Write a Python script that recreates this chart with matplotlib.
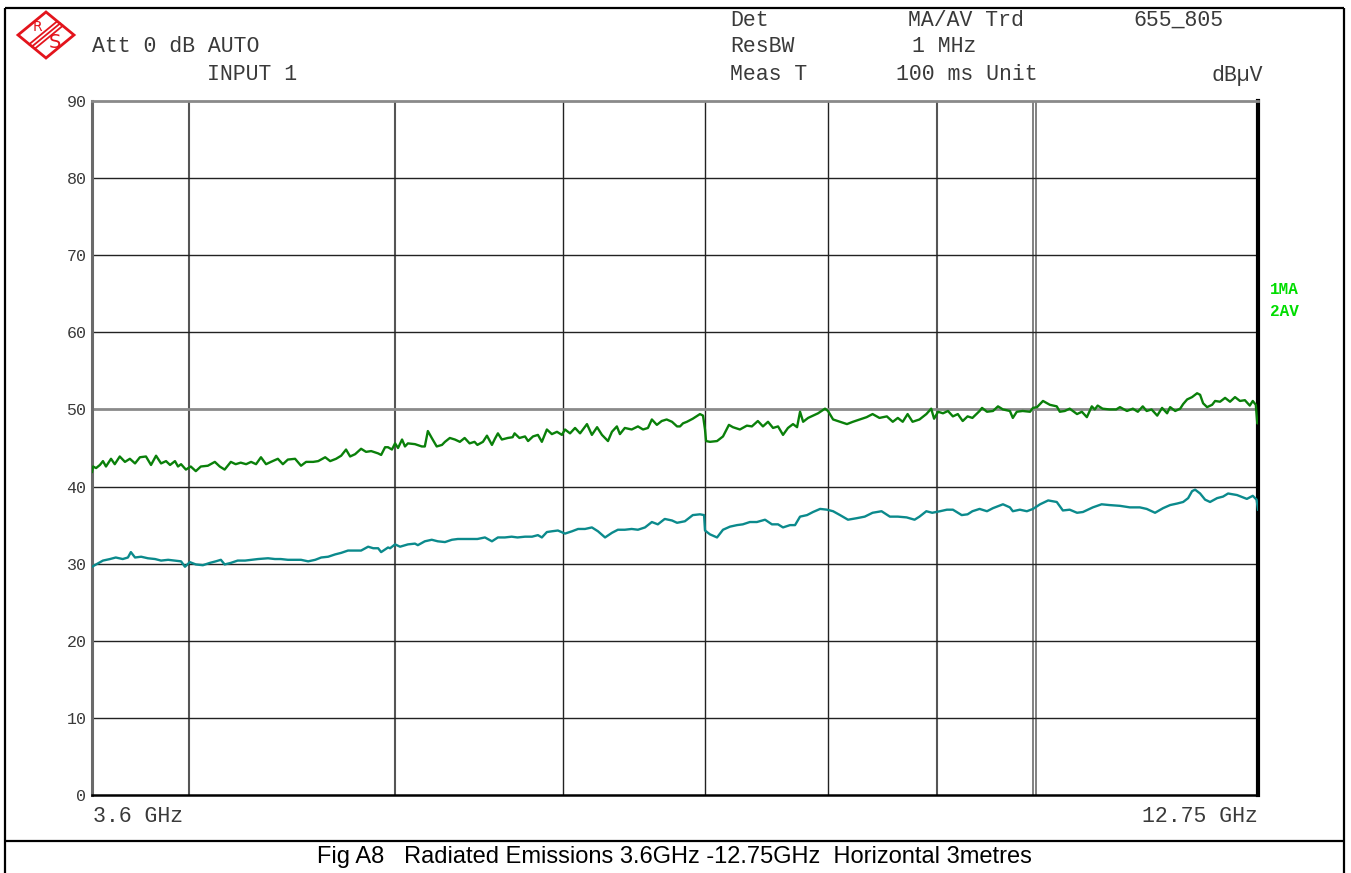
import matplotlib
matplotlib.use('Agg')
import matplotlib.pyplot as plt
from matplotlib.patches import Polygon
from matplotlib.ticker import NullLocator

# Trace 1: max peak (MA), frequency in GHz / level in dBuV
ma_freq = [3.600, 3.604, 3.616, 3.631, 3.643, 3.655, 3.675, 3.690, 3.710, 3.731,
           3.751, 3.772, 3.792, 3.817, 3.838, 3.859, 3.880, 3.901, 3.918, 3.939,
           3.952, 3.965, 3.986, 4.007, 4.029, 4.051, 4.082, 4.113, 4.135, 4.157,
           4.185, 4.207, 4.230, 4.255, 4.278, 4.301, 4.324, 4.348, 4.371, 4.404,
           4.428, 4.452, 4.487, 4.516, 4.541, 4.576, 4.601, 4.636, 4.661, 4.691,
           4.717, 4.742, 4.763, 4.789, 4.820, 4.846, 4.873, 4.910, 4.926, 4.947,
           4.963, 4.984, 5.001, 5.017, 5.039, 5.055, 5.071, 5.110, 5.148, 5.165,
           5.182, 5.204, 5.232, 5.262, 5.279, 5.307, 5.336, 5.365, 5.393, 5.422,
           5.451, 5.468, 5.501, 5.525, 5.555, 5.573, 5.591, 5.615, 5.651, 5.681,
           5.693, 5.723, 5.758, 5.777, 5.808, 5.839, 5.864, 5.896, 5.928, 5.961,
           5.993, 6.013, 6.046, 6.079, 6.112, 6.158, 6.191, 6.226, 6.259, 6.300,
           6.327, 6.361, 6.382, 6.416, 6.464, 6.508, 6.544, 6.579, 6.607, 6.643,
           6.678, 6.714, 6.753, 6.790, 6.812, 6.834, 6.863, 6.907, 6.961, 6.984,
           6.999, 7.007, 7.037, 7.091, 7.137, 7.183, 7.214, 7.269, 7.324, 7.364,
           7.412, 7.453, 7.494, 7.535, 7.576, 7.617, 7.658, 7.700, 7.734, 7.759,
           7.785, 7.827, 7.869, 7.912, 7.972, 7.998, 8.042, 8.103, 8.164, 8.217,
           8.279, 8.340, 8.394, 8.457, 8.525, 8.580, 8.627, 8.673, 8.719, 8.766,
           8.832, 8.898, 8.945, 8.973, 9.012, 9.060, 9.109, 9.158, 9.207, 9.256,
           9.305, 9.354, 9.427, 9.452, 9.503, 9.565, 9.617, 9.669, 9.742, 9.773,
           9.815, 9.878, 9.957, 9.989, 10.033, 10.098, 10.174, 10.250, 10.284, 10.339,
           10.395, 10.478, 10.533, 10.590, 10.647, 10.681, 10.715, 10.772, 10.852, 10.932,
           10.977, 11.061, 11.132, 11.192, 11.252, 11.300, 11.360, 11.430, 11.490, 11.553,
           11.591, 11.655, 11.718, 11.756, 11.807, 11.870, 11.935, 11.974, 12.013, 12.065,
           12.131, 12.170, 12.236, 12.303, 12.369, 12.436, 12.503, 12.570, 12.637, 12.678,
           12.720, 12.740, 12.750]
ma_level = [41.9, 42.6, 42.4, 42.8, 43.3, 42.6, 43.6, 42.9, 43.9, 43.2,
            43.6, 43.0, 43.8, 43.9, 42.8, 44.0, 43.0, 43.3, 42.8, 43.3,
            42.6, 42.9, 42.2, 42.6, 42.0, 42.6, 42.7, 43.2, 42.6, 42.2,
            43.2, 42.9, 43.1, 42.9, 43.2, 42.9, 43.8, 42.9, 43.2, 43.6,
            42.9, 43.5, 43.6, 42.7, 43.2, 43.2, 43.3, 43.8, 43.3, 43.6,
            44.0, 44.8, 43.9, 44.2, 44.9, 44.5, 44.6, 44.3, 44.1, 45.1,
            45.1, 44.8, 45.6, 45.0, 46.1, 45.2, 45.6, 45.5, 45.2, 45.2,
            47.2, 46.3, 45.2, 45.4, 45.8, 46.3, 46.1, 45.8, 46.3, 45.6,
            45.8, 45.4, 45.8, 46.6, 45.4, 46.2, 46.9, 46.1, 46.3, 46.4,
            46.9, 46.3, 46.5, 45.9, 46.5, 46.7, 45.8, 47.4, 46.8, 47.1,
            46.7, 47.4, 46.9, 47.6, 46.9, 48.1, 46.7, 47.7, 46.7, 45.9,
            47.1, 47.8, 46.8, 47.6, 47.4, 47.8, 47.4, 47.6, 48.7, 48.0,
            48.5, 48.7, 48.4, 47.8, 47.8, 48.2, 48.4, 48.8, 49.4, 49.2,
            47.4, 45.9, 45.8, 45.9, 46.5, 48.0, 47.7, 47.4, 47.9, 47.8,
            48.5, 47.8, 48.4, 47.6, 47.8, 46.7, 47.6, 48.1, 47.7, 49.7,
            48.4, 48.9, 49.2, 49.5, 50.1, 49.8, 48.7, 48.4, 48.1, 48.4,
            48.7, 49.0, 49.4, 48.9, 49.1, 48.4, 48.9, 48.4, 49.4, 48.4,
            48.7, 49.4, 50.1, 48.8, 49.7, 49.5, 49.8, 49.1, 49.4, 48.5,
            49.1, 48.9, 49.8, 50.2, 49.7, 49.8, 50.4, 50.0, 49.8, 48.9,
            49.7, 49.8, 49.7, 50.2, 50.3, 51.1, 50.6, 50.4, 49.7, 49.8,
            50.1, 49.4, 49.7, 49.0, 50.4, 50.0, 50.5, 50.1, 50.0, 50.0,
            50.3, 49.8, 50.1, 49.7, 50.4, 49.8, 50.0, 49.2, 50.2, 49.5,
            50.3, 49.8, 50.1, 50.7, 51.3, 51.6, 52.1, 51.9, 50.8, 50.3,
            50.6, 51.1, 51.0, 51.5, 51.0, 51.6, 51.1, 51.2, 50.5, 51.1,
            50.6, 48.2, 48.2]

# Trace 2: average (AV)
av_freq = [3.600, 3.616, 3.643, 3.671, 3.694, 3.722, 3.743, 3.755, 3.772, 3.797,
           3.825, 3.855, 3.880, 3.910, 3.939, 3.965, 3.982, 4.003, 4.029, 4.060,
           4.091, 4.117, 4.140, 4.157, 4.185, 4.216, 4.250, 4.278, 4.310, 4.357,
           4.390, 4.418, 4.452, 4.487, 4.516, 4.551, 4.586, 4.616, 4.651, 4.686,
           4.717, 4.752, 4.789, 4.820, 4.857, 4.884, 4.910, 4.926, 4.963, 4.974,
           5.001, 5.028, 5.071, 5.110, 5.126, 5.165, 5.204, 5.238, 5.279, 5.319,
           5.353, 5.393, 5.434, 5.468, 5.513, 5.555, 5.591, 5.633, 5.675, 5.711,
           5.758, 5.802, 5.839, 5.864, 5.896, 5.928, 5.967, 6.013, 6.059, 6.099,
           6.145, 6.191, 6.232, 6.280, 6.327, 6.368, 6.416, 6.464, 6.508, 6.558,
           6.607, 6.650, 6.700, 6.753, 6.790, 6.848, 6.863, 6.907, 6.961, 6.992,
           6.999, 7.037, 7.091, 7.137, 7.191, 7.246, 7.292, 7.348, 7.404, 7.470,
           7.526, 7.576, 7.617, 7.675, 7.717, 7.759, 7.818, 7.869, 7.930, 7.990,
           8.042, 8.103, 8.173, 8.252, 8.323, 8.394, 8.476, 8.553, 8.627, 8.710,
           8.785, 8.832, 8.898, 8.955, 9.031, 9.099, 9.158, 9.246, 9.305, 9.354,
           9.427, 9.503, 9.565, 9.669, 9.742, 9.773, 9.848, 9.923, 9.989, 10.066,
           10.155, 10.250, 10.318, 10.395, 10.478, 10.545, 10.659, 10.761, 10.852, 10.977,
           11.096, 11.216, 11.300, 11.403, 11.503, 11.591, 11.680, 11.756, 11.820, 11.870,
           11.909, 11.974, 12.039, 12.104, 12.197, 12.276, 12.343, 12.463, 12.597, 12.678,
           12.731, 12.750]
av_level = [29.6, 29.9, 30.4, 30.6, 30.8, 30.6, 30.8, 31.5, 30.8, 30.9,
            30.7, 30.6, 30.4, 30.5, 30.4, 30.3, 29.6, 30.2, 29.9, 29.8,
            30.1, 30.3, 30.5, 29.9, 30.1, 30.4, 30.4, 30.5, 30.6, 30.7,
            30.6, 30.6, 30.5, 30.5, 30.5, 30.3, 30.5, 30.8, 30.9, 31.2,
            31.4, 31.7, 31.7, 31.7, 32.2, 32.0, 32.0, 31.5, 32.1, 32.0,
            32.5, 32.2, 32.5, 32.6, 32.4, 32.9, 33.1, 32.9, 32.8, 33.1,
            33.2, 33.2, 33.2, 33.2, 33.4, 32.9, 33.4, 33.4, 33.5, 33.4,
            33.5, 33.5, 33.7, 33.4, 34.1, 34.2, 34.3, 33.9, 34.2, 34.5,
            34.5, 34.7, 34.2, 33.4, 34.0, 34.4, 34.4, 34.5, 34.4, 34.7,
            35.4, 35.1, 35.8, 35.6, 35.3, 35.5, 35.7, 36.3, 36.4, 36.3,
            34.3, 33.8, 33.4, 34.4, 34.8, 35.0, 35.1, 35.4, 35.4, 35.7,
            35.1, 35.1, 34.7, 35.0, 35.0, 36.1, 36.3, 36.7, 37.1, 37.0,
            36.8, 36.3, 35.7, 35.9, 36.1, 36.6, 36.8, 36.1, 36.1, 36.0,
            35.7, 36.1, 36.8, 36.6, 36.8, 37.0, 37.0, 36.3, 36.4, 36.8,
            37.1, 36.8, 37.2, 37.7, 37.3, 36.8, 37.0, 36.8, 37.1, 37.7,
            38.2, 38.0, 36.9, 37.0, 36.6, 36.7, 37.3, 37.7, 37.6, 37.5,
            37.3, 37.3, 37.1, 36.6, 37.2, 37.6, 37.8, 38.0, 38.5, 39.4,
            39.6, 39.1, 38.3, 38.0, 38.5, 38.7, 39.1, 38.9, 38.4, 38.8,
            38.3, 37.0]

# Grid layout
grid_freq = [4, 5, 6, 7, 8, 9]
grid_level = [10, 20, 30, 40, 60, 70, 80]
y_ticks = [0, 10, 20, 30, 40, 50, 60, 70, 80, 90]

W, H = 1351, 873
MONO = 'Liberation Mono'
TXT = '#3a3a3a'

fig = plt.figure(figsize=(W / 100, H / 100), dpi=100)

# page overlay in pixel units for the frame, header and logo
page = fig.add_axes([0, 0, 1, 1])
page.set_xlim(0, W)
page.set_ylim(H, 0)
page.axis('off')

for xs, ys in [([5, 1344], [8, 8]), ([5, 5], [8, H]),
               ([1344, 1344], [8, H]), ([5, 1344], [841, 841])]:
    page.plot(xs, ys, color='black', lw=1.6, solid_capstyle='butt')

# R&S logo
red = '#e3141c'
cx, cy, hw, hh = 46, 35, 28, 23
page.add_patch(Polygon([(cx - hw, cy), (cx, cy - hh), (cx + hw, cy), (cx, cy + hh)],
                       closed=True, facecolor='white', edgecolor=red, lw=2.0))
for k in (-2.8, 0, 2.8):
    page.plot([cx - hw / 2 + k, cx + hw / 2 + k], [cy + hh / 2 + k * 0.8, cy - hh / 2 + k * 0.8],
              color=red, lw=1.3)
page.text(cx - 9, cy - 8, 'R', color=red, fontsize=10, ha='center', va='center',
          fontfamily='DejaVu Sans')
page.text(cx + 9, cy + 8, 'S', color=red, fontsize=14, ha='center', va='center',
          fontfamily='DejaVu Sans')

# instrument header
hdr = dict(fontfamily=MONO, fontsize=15.5, color=TXT, va='center')
page.text(92, 47, 'Att 0 dB AUTO', ha='left', **hdr)
page.text(207, 75, 'INPUT 1', ha='left', **hdr)
page.text(730, 20, 'Det', ha='left', **hdr)
page.text(908, 20, 'MA/AV Trd', ha='left', **hdr)
page.text(1133, 20, '655_805', ha='left', **hdr)
page.text(730, 47, 'ResBW', ha='left', **hdr)
page.text(912, 47, '1 MHz', ha='left', **hdr)
page.text(730, 75, 'Meas T', ha='left', **hdr)
page.text(896, 75, '100 ms Unit', ha='left', **hdr)
page.text(1263, 75, 'dBµV', ha='right', **hdr)

page.text(93, 817, '3.6 GHz', ha='left', **hdr)
page.text(1258, 817, '12.75 GHz', ha='right', **hdr)
page.text(1036, 115, '10 GHz', ha='center', **hdr)

trace_lbl = dict(fontfamily=MONO, fontsize=11.5, fontweight='bold', color='#00dd00',
                 ha='left', va='center')
page.text(1270, 290, '1MA', **trace_lbl)
page.text(1270, 312, '2AV', **trace_lbl)

page.text(674, 857, 'Fig A8   Radiated Emissions 3.6GHz -12.75GHz  Horizontal 3metres',
          ha='center', va='center', fontfamily='Liberation Sans', fontsize=17,
          color='black')

# spectrum plot
ax = fig.add_axes([92 / W, 1 - 795 / H, (1258 - 92) / W, (795 - 101) / H])
ax.set_xscale('log')
ax.set_xlim(3.6, 12.75)
ax.set_ylim(0, 90)
ax.xaxis.set_major_locator(NullLocator())
ax.xaxis.set_minor_locator(NullLocator())
ax.set_yticks(y_ticks)
ax.set_yticklabels([str(v) for v in y_ticks], fontfamily=MONO, fontsize=12, color=TXT)
ax.tick_params(axis='y', length=0, pad=4)

for f in grid_freq:
    heavy = f in (4, 5, 9)
    ax.axvline(f, color='#555555' if heavy else '#222222', lw=1.5 if heavy else 1.0, zorder=1)
for f in (9.99, 10.022):
    ax.axvline(f, color='#777777', lw=1.3, zorder=1)
for lv in grid_level:
    ax.axhline(lv, color='#222222', lw=1.0, zorder=1)
ax.axhline(50, color='#8a8a8a', lw=2.0, zorder=1)

ax.plot(av_freq, av_level, color='#0b8a8c', lw=1.7, zorder=3)
ax.plot(ma_freq, ma_level, color='#0a800a', lw=1.7, zorder=3)

ax.spines['left'].set_color('#6a6a6a')
ax.spines['left'].set_linewidth(2.2)
ax.spines['top'].set_color('#8a8a8a')
ax.spines['top'].set_linewidth(2.0)
ax.spines['bottom'].set_color('black')
ax.spines['bottom'].set_linewidth(1.8)
ax.spines['right'].set_color('black')
ax.spines['right'].set_linewidth(3.0)

fig.savefig('out.png', dpi=100)
